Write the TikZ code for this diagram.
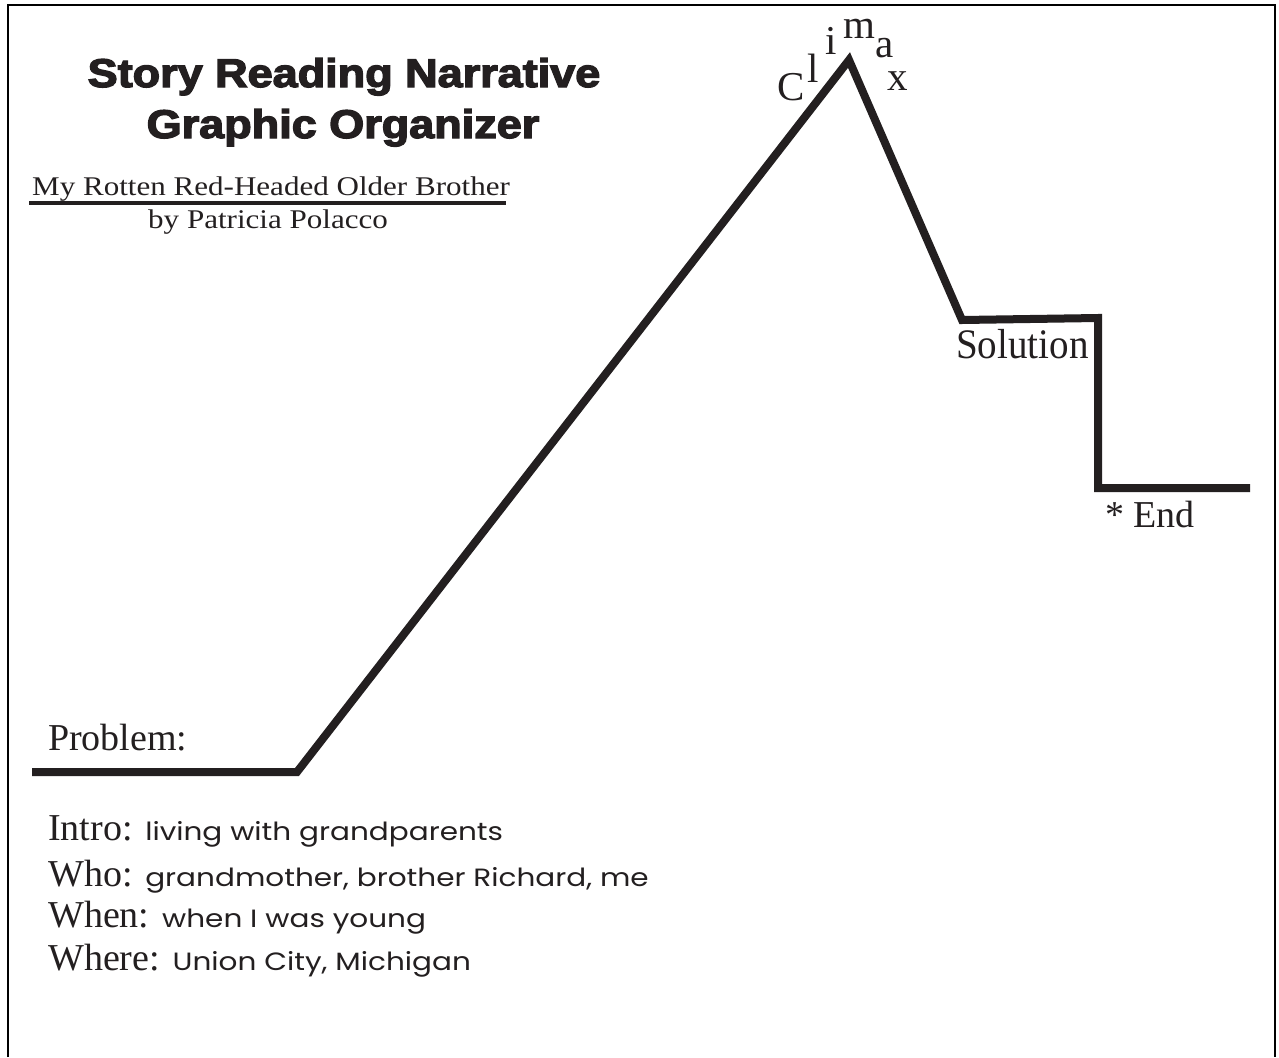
\documentclass[tikz,border=0pt]{standalone}
\usepackage{fontspec}
\usetikzlibrary{calc}
\setmainfont{Liberation Serif}
\newfontfamily\titlefont{Liberation Sans Bold}[FakeBold=3.2]
\newfontfamily\handfont{Poppins}
\definecolor{ink}{RGB}{35,31,32}
\newcommand{\hand}[1]{{\handfont\fontsize{25}{25}\selectfont\scalebox{1.18}[1]{#1}}}

\begin{document}
\begin{tikzpicture}[x=1pt,y=-1pt,
  lbl/.style={inner sep=0pt, anchor=base west, text=ink},
  ttl/.style={inner sep=0pt, anchor=base, text=ink,
    font=\titlefont\fontsize{40}{40}\selectfont},
  serif/.style={font=\fontsize{38}{38}\selectfont},
  peakletter/.style={lbl, font=\fontsize{41}{41}\selectfont},
  plotline/.style={draw=ink, line width=8pt, miter limit=20},
  framerule/.style={draw=black, line width=2.5pt}]
\useasboundingbox (0,0) rectangle (1279,1057);
\fill[white] (0,0) rectangle (1279,1057);

% page frame (open at the bottom)
\draw[framerule] (8,1057) -- (8,5) -- (1275,5) -- (1275,1057);

% title
\node[ttl] (title1) at (344,87) {\scalebox{1.125}[1]{Story Reading Narrative}};
\node[ttl] (title2) at (343,138) {\scalebox{1.125}[1]{Graphic Organizer}};

% book and author
\node[lbl, font=\fontsize{27}{27}\selectfont] (book) at (32,195)
  {\scalebox{1.15}[1]{My Rotten Red-Headed Older Brother}};
\draw[draw=ink, line width=3.5pt] ($(book.base west)+(-3,8)$) -- ($(book.base east)+(-4,8)$);
\node[lbl, font=\fontsize{27}{27}\selectfont] (author) at (148,228)
  {\scalebox{1.15}[1]{by Patricia Polacco}};

% plot line
\coordinate (start) at (32,772);
\coordinate (rise) at (297,772);
\coordinate (peak) at (849,60);
\coordinate (fall) at (962,320);
\coordinate (drop) at (1098,318);
\coordinate (low) at (1098,488);
\coordinate (finish) at (1250,488);
\draw[plotline] (start) -- (rise) -- (peak) -- (fall) -- (drop) -- (low) -- (finish);

% climax lettering around the peak
\node[peakletter] (cC) at (777,100) {C};
\node[peakletter] (cl) at (807,82) {l};
\node[peakletter] (ci) at (825,55) {i};
\node[peakletter] (cm) at (843,38) {m};
\node[peakletter] (ca) at (875,57) {a};
\node[peakletter] (cx) at (887,90) {x};

% stage labels
\node[lbl, font=\fontsize{42}{42}\selectfont] (solution) at (956,358) {\scalebox{0.93}[1]{Solution}};
\node[lbl, font=\fontsize{38}{38}\selectfont] (end) at (1105,527) {* End};
\node[lbl, serif] (problem) at (48,750) {Problem:};

% story elements
\node[lbl, serif] (intro) at (48,840) {Intro: \hand{living with grandparents}};
\node[lbl, serif] (who) at (48,886) {Who: \hand{grandmother, brother Richard, me}};
\node[lbl, serif] (when) at (48,927) {When: \hand{when I was young}};
\node[lbl, serif] (where) at (48,970) {Where: \hand{Union City, Michigan}};
\end{tikzpicture}
\end{document}
